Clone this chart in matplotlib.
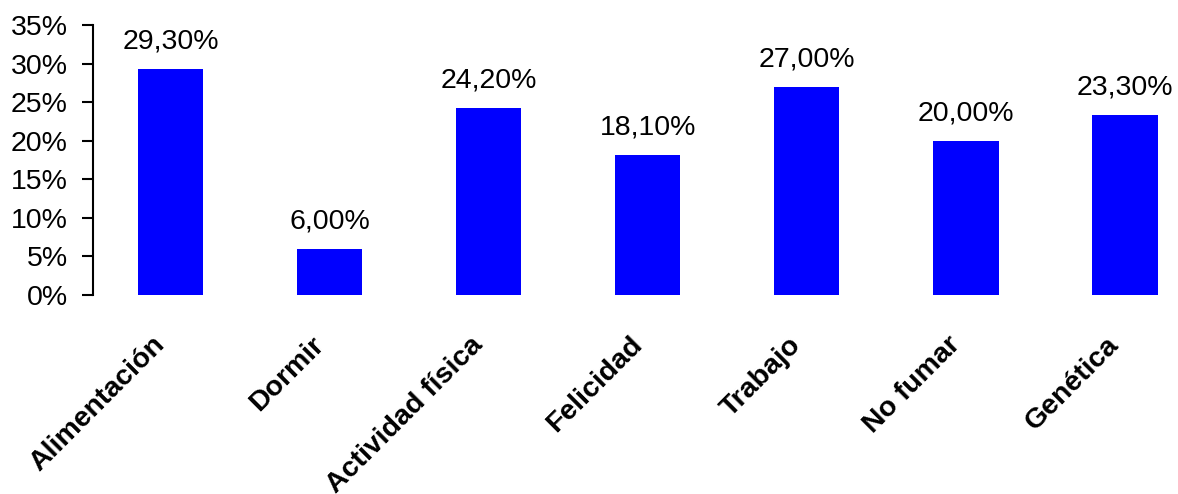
import numpy as np
import matplotlib.pyplot as plt
import matplotlib.transforms as mtransforms

plt.rcParams['font.family'] = ['Liberation Sans', 'DejaVu Sans']

categories = ["Alimentación", "Dormir", "Actividad física", "Felicidad",
              "Trabajo", "No fumar", "Genética"]
values = [29.3, 6.0, 24.2, 18.1, 27.0, 20.0, 23.3]
yticks = [0, 5, 10, 15, 20, 25, 30, 35]

fig = plt.figure(figsize=(11.78, 4.94), dpi=100)
ax = fig.add_axes([93 / 1178, 199 / 494, 1 - 93 / 1178, 270 / 494])

x = np.arange(len(categories))
ax.bar(x, values, width=0.41, color="#0000ff")

for xi, v in zip(x, values):
    ax.text(xi, v + 1.9, f"{v:.2f}".replace(".", ",") + "%", ha="center",
            va="bottom", fontsize=20.5)

ax.set_xlim(-0.487, 6.333)
ax.set_ylim(0, 35)
ax.set_yticks(yticks)
ax.set_yticklabels([f"{t}%" for t in yticks], fontsize=20.5)
ax.tick_params(axis="y", length=8, width=1.5, pad=10)
ax.set_xticks(x)
ax.set_xticklabels(categories, rotation=45, ha="right", rotation_mode="anchor",
                   fontsize=20.5, fontweight="bold")
ax.tick_params(axis="x", length=0, pad=30)

# nudge the rotated labels a bit to the left, like the original
shift = mtransforms.ScaledTranslation(-0.19, 0.05, fig.dpi_scale_trans)
for lbl in ax.get_xticklabels():
    lbl.set_transform(lbl.get_transform() + shift)

for s in ["top", "right", "bottom"]:
    ax.spines[s].set_visible(False)
ax.spines["left"].set_linewidth(1.5)

fig.savefig("out.png", dpi=100)
